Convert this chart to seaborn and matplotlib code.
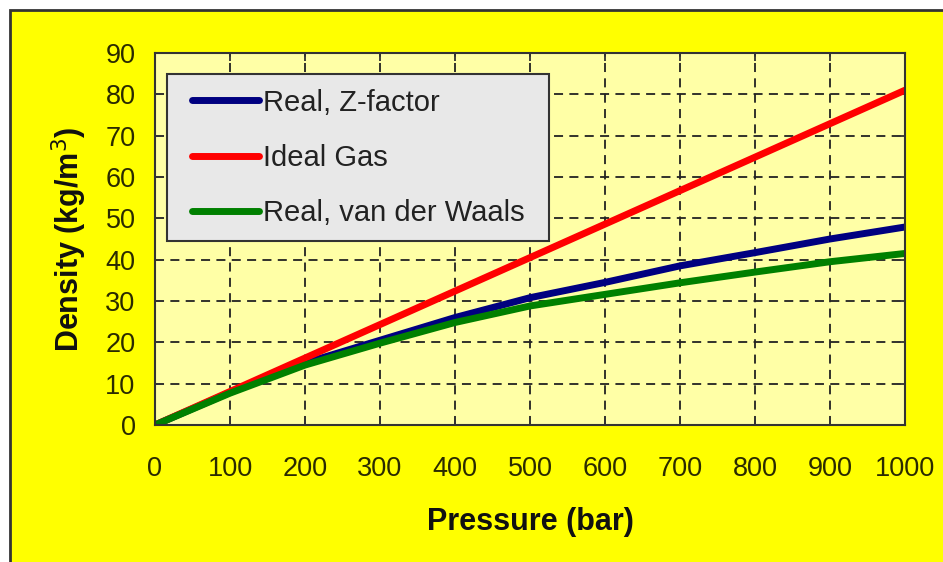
import matplotlib
matplotlib.use("Agg")
import matplotlib.pyplot as plt
from matplotlib.patches import Rectangle
from matplotlib.path import Path
import numpy as np
import pandas as pd
import seaborn as sns

# Hydrogen density vs pressure
pressure = [0, 100, 200, 300, 400, 500, 600, 700, 800, 900, 1000]
rho_zfactor = [0, 7.9, 15.0, 20.5, 26.0, 30.8, 34.5, 38.5, 41.7, 45.0, 47.9]
rho_ideal = [0, 8.1, 16.2, 24.3, 32.4, 40.5, 48.6, 56.7, 64.8, 72.9, 81.0]
rho_vdw = [0, 7.7, 14.5, 19.8, 24.8, 28.8, 31.6, 34.4, 37.0, 39.5, 41.5]

series_names = ["Real, Z-factor", "Ideal Gas", "Real, van der Waals"]
series_colors = ["#000080", "#FF0000", "#008000"]
x_ticks = list(range(0, 1001, 100))
y_ticks = list(range(0, 91, 10))

df = pd.concat([
    pd.DataFrame({"Pressure": pressure, "Density": vals, "Model": name})
    for name, vals in zip(series_names, [rho_zfactor, rho_ideal, rho_vdw])
], ignore_index=True)

sns.set_theme(style="ticks")
plt.rcParams["font.family"] = ["Liberation Sans", "DejaVu Sans"]

W, H = 943, 562
fig = plt.figure(figsize=(W / 100, H / 100), dpi=100)
fig.patch.set_facecolor("white")
fig.patches.append(Rectangle((10 / W, -0.01), 1.02, 1 - 10 / H + 0.01,
                             transform=fig.transFigure, facecolor="#FFFF00",
                             edgecolor="#333333", linewidth=2.0, zorder=-5))

ax = fig.add_axes([155 / W, 1 - 425 / H, 750 / W, 372 / H])
ax.set_zorder(1)
ax.set_facecolor("#FFFFA6")

sns.lineplot(data=df, x="Pressure", y="Density", hue="Model",
             hue_order=series_names, palette=series_colors,
             linewidth=5, ax=ax, legend=True, zorder=3)

ax.set_xlim(0, 1000)
ax.set_ylim(0, 90)
ax.set_xticks(x_ticks)
ax.set_yticks(y_ticks)
ax.grid(True, color="#222222", linestyle=(0, (5, 3.5)), linewidth=1.3)
ax.set_axisbelow(True)

for s in ax.spines.values():
    s.set_color("#333333")
    s.set_linewidth(1.5)
    s.set_zorder(4)

ax.tick_params(axis="both", which="both", direction="in", length=6,
               width=1.3, color="#333333", top=True, right=True,
               labelsize=19.5, labelcolor="#2a2a00")
ax.tick_params(axis="x", pad=22)
ax.tick_params(axis="y", pad=14)

ax.set_xlabel("Pressure (bar)", fontsize=22, fontweight="bold",
              color="#111111", labelpad=18)
ax.set_ylabel("Density (kg/m$^3$)", fontsize=22, fontweight="bold",
              color="#111111", labelpad=12)

# legend frame with wider horizontal padding than vertical
EXTRA_X = 10.0


def wide_box(x0, y0, width, height, mutation_size):
    x0 -= EXTRA_X
    width += 2 * EXTRA_X
    return Path.unit_rectangle().transformed(
        matplotlib.transforms.Affine2D().scale(width, height).translate(x0, y0))


handles, labels = ax.get_legend_handles_labels()
leg = ax.legend(handles, labels, loc="upper left",
                bbox_to_anchor=((177 - 155) / 750, (425 - 74) / 372),
                borderaxespad=0, frameon=True, fancybox=False,
                framealpha=1, facecolor="#E8E8E8", edgecolor="#333333",
                fontsize=21, handlelength=2.3, handletextpad=0.15,
                labelspacing=0.93, borderpad=0.5)
leg.get_frame().set_linewidth(1.5)
leg.get_frame().set_boxstyle(wide_box)
for t in leg.get_texts():
    t.set_color("#222222")
for ln in leg.get_lines():
    ln.set_linewidth(5)
    ln.set_solid_capstyle("round")
leg.set_zorder(5)

fig.savefig("out.png", dpi=100, facecolor=fig.get_facecolor())
